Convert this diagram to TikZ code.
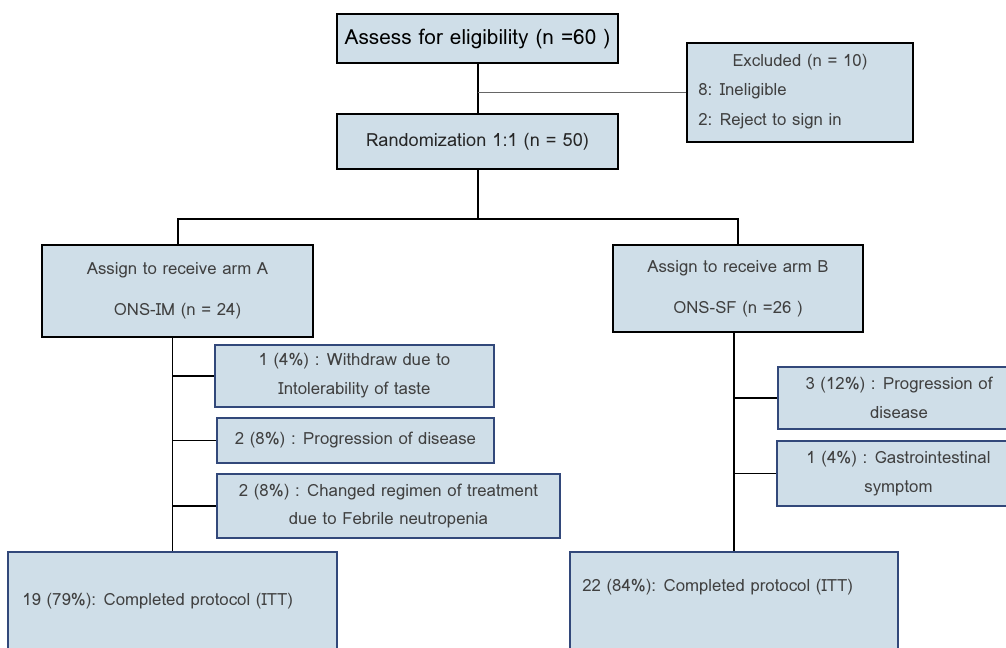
\documentclass[tikz,border=0pt]{standalone}
\usepackage{fontspec}
\setmainfont{Loma}
\definecolor{boxfill}{RGB}{207,222,232}
\definecolor{boxline}{RGB}{50,72,122}
\definecolor{txtgray}{RGB}{64,64,64}
\begin{document}
\begin{tikzpicture}[x=0.75pt,y=-0.75pt,
  every node/.style={font=\fontsize{12.6}{21.7}\selectfont,text=txtgray},
  sz/.style 2 args={minimum width=#1*0.75pt,minimum height=#2*0.75pt},
  mainbox/.style={draw=black,line width=1.5pt,fill=boxfill,inner sep=0pt,align=center},
  sidebox/.style={draw=boxline,line width=1.1pt,fill=boxfill,inner sep=0pt,align=center},
  trunk/.style={line width=1.5pt,black},
  twig/.style={line width=1pt,black}]
  \clip (0,0) rectangle (1006,648);
  \fill[white] (0,0) rectangle (1006,648);
  \node[mainbox,sz={281}{49},font=\fontsize{15.6}{18}\selectfont,text=black] (assess) at (477.5,38.5) {Assess for eligibility (n =60 )};
  \node[mainbox,sz={281}{55},font=\fontsize{13.6}{16}\selectfont,text=black!85] (rand) at (477.5,141.5) {Randomization 1:1 (n = 50)};
  \node[mainbox,line width=1.2pt,sz={226}{99}] (excl) at (800,92.5) {};
  \node (exclt) at (800,62) {Excluded (n = 10)};
  \node[anchor=west,inner sep=0pt] (excla) at (698,91) {8: Ineligible};
  \node[anchor=west,inner sep=0pt] (exclb) at (698,121) {2: Reject to sign in};
  \node[mainbox,sz={271}{92}] (armA) at (177.5,291) {Assign to receive arm A\\[9pt]ONS-IM (n = 24)};
  \node[mainbox,sz={250}{87}] (armB) at (738,288.5) {Assign to receive arm B\\[9pt]ONS-SF (n =26 )};
  \node[sidebox,sz={279}{62}] (s1) at (354.5,376) {1 (4\%) : Withdraw due to\\Intolerability of taste};
  \node[sidebox,sz={277}{45}] (s2) at (355.5,440.5) {2 (8\%) : Progression of disease};
  \node[sidebox,sz={343}{64}] (s3) at (388.5,506) {2 (8\%) : Changed regimen of treatment\\due to Febrile neutropenia};
  \node[sidebox,sz={242}{62}] (s4) at (899,398) {3 (12\%) : Progression of\\disease};
  \node[sidebox,sz={243}{65}] (s5) at (898.5,473.5) {1 (4\%) : Gastrointestinal\\symptom};
  \node[sidebox,sz={329}{100}] (compA) at (172.5,602) {};
  \node[sidebox,sz={328}{100}] (compB) at (734,602) {};
  \node[anchor=west,inner sep=0pt] (compAt) at (22,601) {19 (79\%): Completed protocol (ITT)};
  \node[anchor=west,inner sep=0pt] (compBt) at (582,587) {22 (84\%): Completed protocol (ITT)};
  \coordinate (fork) at (rand.south |- 0,219);
  \coordinate (jx) at (assess.south |- excl.west);
  \draw[trunk] (assess) -- (rand);
  \draw[black!60,line width=1pt] (jx) -- (excl.west);
  \draw[trunk] (rand) -- (fork) -| (armA);
  \draw[trunk] (fork) -| (armB);
  \draw[twig] (compA.north |- armA.south) -- (compA.north);
  \draw[twig] (compB.north |- armB.south) -- (compB.north);
  \foreach \s in {s1,s2,s3} \draw[twig] (\s.west -| compA.north) -- (\s.west);
  \foreach \s in {s4,s5} \draw[twig] (\s.west -| compB.north) -- (\s.west);
\end{tikzpicture}
\end{document}
